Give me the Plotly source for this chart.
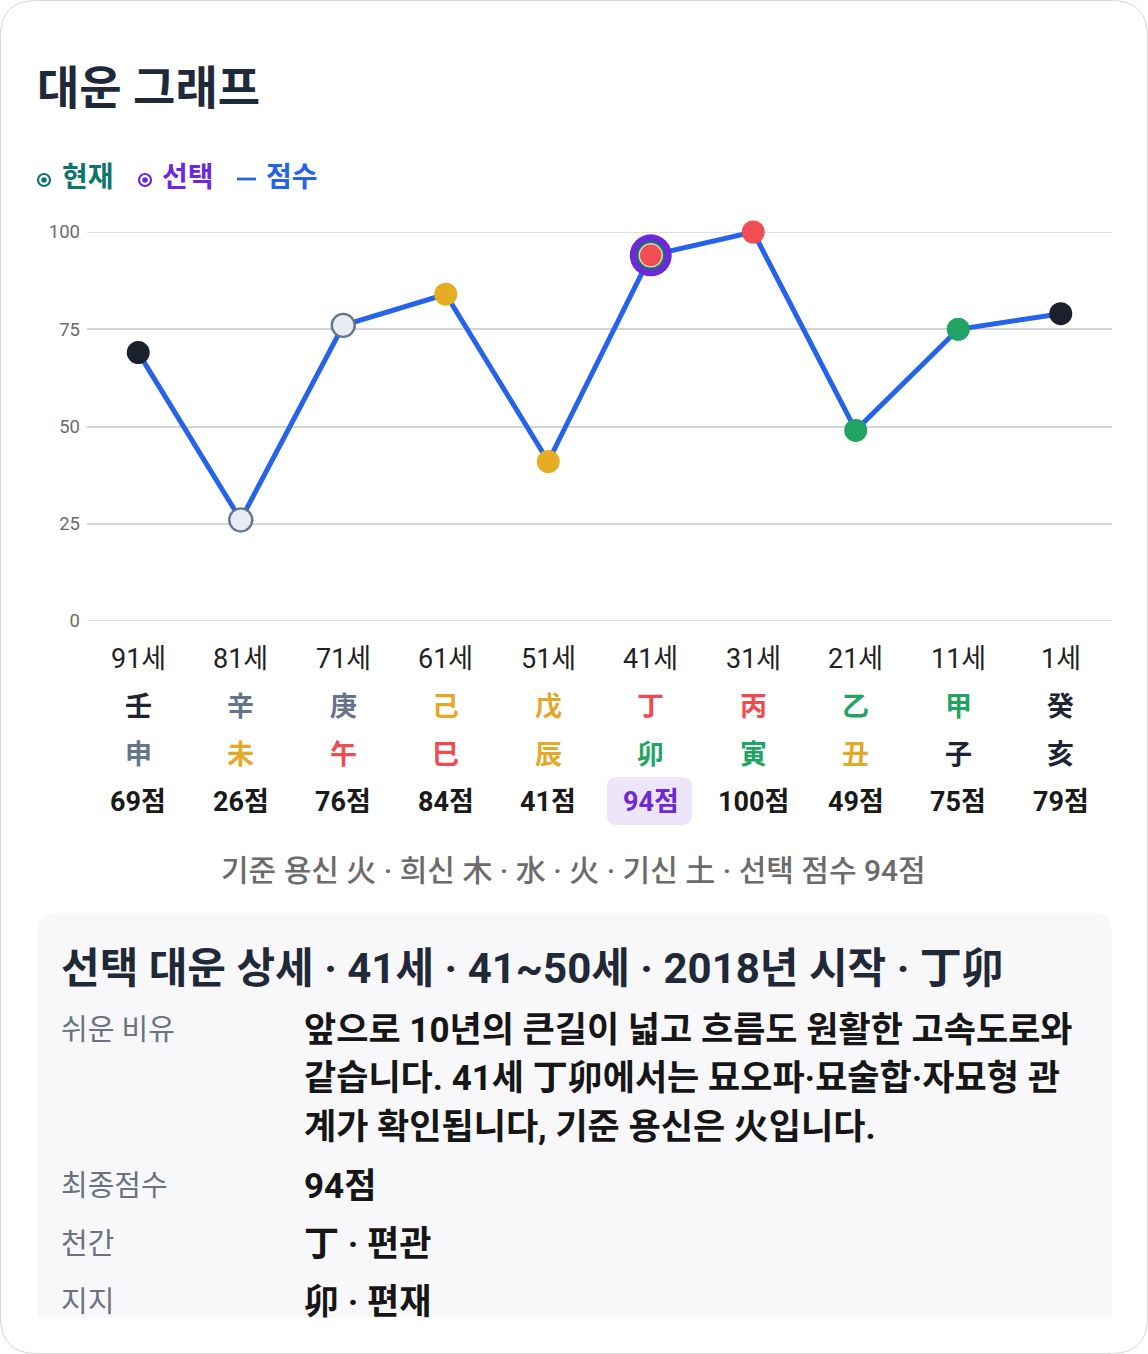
import plotly.graph_objects as go

# data
ages = ["91세", "81세", "71세", "61세", "51세", "41세", "31세", "21세", "11세", "1세"]
stems = ["壬", "辛", "庚", "己", "戊", "丁", "丙", "乙", "甲", "癸"]
branches = ["申", "未", "午", "巳", "辰", "卯", "寅", "丑", "子", "亥"]
scores = [69, 26, 76, 84, 41, 94, 100, 49, 75, 79]
stem_elem = ["water", "metal", "metal", "earth", "earth", "fire", "fire", "wood", "wood", "water"]
branch_elem = ["metal", "earth", "fire", "fire", "earth", "wood", "wood", "earth", "water", "water"]
selected = 5

y_ticks = [0, 25, 50, 75, 100]
title = "대운 그래프"
legend_items = ["현재", "선택", "점수"]
footnote = "기준 용신 火 · 희신 木 · 水 · 火 · 기신 土 · 선택 점수 94점"
detail_title = "선택 대운 상세 · 41세 · 41~50세 · 2018년 시작 · 丁卯"
detail_rows = [
    ("쉬운 비유", ["앞으로 10년의 큰길이 넓고 흐름도 원활한 고속도로와",
                "같습니다. 41세 丁卯에서는 묘오파·묘술합·자묘형 관",
                "계가 확인됩니다, 기준 용신은 火입니다."]),
    ("최종점수", ["94점"]),
    ("천간", ["丁 · 편관"]),
    ("지지", ["卯 · 편재"]),
]

text_col = {"water": "#1e2433", "metal": "#64748b", "earth": "#e2a826",
            "fire": "#f04b50", "wood": "#21a462"}
fill_col = {"water": "#1a202c", "metal": "#e8edf3", "earth": "#e5ac24",
            "fire": "#f24d52", "wood": "#21a462"}

W, H = 1148, 1354
L, R, T, B = 87, 36, 232, 733
PW, PH = W - L - R, H - T - B
FONT = "Roboto, Noto Sans CJK KR, sans-serif"


def xp(px):
    return (px - L) / PW


def yp(py):
    return (H - B - py) / PH


def rrect(x0, y0, x1, y1, r, round_bottom=True):
    rb = r if round_bottom else 0
    pts = [("M", x0 + r, y0), ("L", x1 - r, y0), ("Q", x1, y0, x1, y0 + r),
           ("L", x1, y1 - rb), ("Q", x1, y1, x1 - rb, y1), ("L", x0 + rb, y1),
           ("Q", x0, y1, x0, y1 - rb), ("L", x0, y0 + r), ("Q", x0, y0, x0 + r, y0)]
    s = ""
    for p in pts:
        if p[0] == "Q":
            s += "Q %f,%f %f,%f " % (xp(p[1]), yp(p[2]), xp(p[3]), yp(p[4]))
        else:
            s += "%s %f,%f " % (p[0], xp(p[1]), yp(p[2]))
    return s + "Z"


fig = go.Figure()

fig.add_trace(go.Scatter(x=ages, y=scores, mode="lines",
                         line=dict(color="#2563eb", width=5),
                         hoverinfo="skip", cliponaxis=False))

fig.add_trace(go.Scatter(
    x=ages, y=scores, mode="markers", cliponaxis=False,
    marker=dict(size=23, color=[fill_col[e] for e in stem_elem],
                line=dict(color=["#64748b" if e == "metal" else "rgba(0,0,0,0)" for e in stem_elem],
                          width=[2.4 if e == "metal" else 0 for e in stem_elem]))))

# selected / current rings
sx, sy = [ages[selected]], [scores[selected]]
fig.add_trace(go.Scatter(x=sx, y=sy, mode="markers", cliponaxis=False,
                         marker=dict(size=42, color="#6d28d9", line=dict(width=0))))
fig.add_trace(go.Scatter(x=sx, y=sy, mode="markers", cliponaxis=False,
                         marker=dict(size=29, color="#0f766e", line=dict(width=0))))
fig.add_trace(go.Scatter(x=sx, y=sy, mode="markers", cliponaxis=False,
                         marker=dict(size=23, color=fill_col[stem_elem[selected]],
                                     line=dict(color="#f5c6c6", width=1.5))))

shapes = []
ann = []

# outer card
shapes.append(dict(type="path", xref="paper", yref="paper",
                   path=rrect(0.5, 0.5, W - 0.5, H - 0.5, 36),
                   line=dict(color="#d6d6d6", width=1), fillcolor="rgba(0,0,0,0)", layer="below"))

# detail panel
shapes.append(dict(type="path", xref="paper", yref="paper",
                   path=rrect(37, 913, 1112, 1318, 20, round_bottom=False),
                   line=dict(width=0), fillcolor="#f8f8fb", layer="below"))

# selected score highlight
shapes.append(dict(type="path", xref="paper", yref="paper",
                   path=rrect(607, 777, 692, 825, 10),
                   line=dict(width=0), fillcolor="#ede6fb", layer="below"))

# grid lines on the range edges
for v in (y_ticks[0], y_ticks[-1]):
    shapes.append(dict(type="line", xref="paper", yref="y", x0=0, x1=1, y0=v, y1=v,
                       line=dict(color="#d4d4d8", width=1.5), layer="below"))

# title
ann.append(dict(text="<b>%s</b>" % title, x=xp(35), y=yp(88), xanchor="left", yanchor="middle",
                font=dict(size=46, color="#1e293b")))

# legend
leg_cols = ["#0f766e", "#6d28d9", "#2563eb"]
leg_icon_x = [44, 145]
leg_text_x = [60, 160, 264]
for cx, c in zip(leg_icon_x, leg_cols[:2]):
    shapes.append(dict(type="circle", xref="paper", yref="paper",
                       x0=xp(cx - 6), x1=xp(cx + 6), y0=yp(180 - 6), y1=yp(180 + 6),
                       line=dict(color=c, width=2.2), fillcolor="white"))
    shapes.append(dict(type="circle", xref="paper", yref="paper",
                       x0=xp(cx - 2.8), x1=xp(cx + 2.8), y0=yp(180 - 2.8), y1=yp(180 + 2.8),
                       line=dict(width=0), fillcolor=c))
shapes.append(dict(type="line", xref="paper", yref="paper", x0=xp(237), x1=xp(256),
                   y0=yp(179), y1=yp(179), line=dict(color="#2563eb", width=2.8)))
for t, c, tx in zip(legend_items, leg_cols, leg_text_x):
    ann.append(dict(text="<b>%s</b>" % t, x=xp(tx), y=yp(177), xanchor="left", yanchor="middle",
                    font=dict(size=28, color=c)))

# category labels under the axis
for i in range(len(ages)):
    ann.append(dict(text=ages[i], x=i, xref="x", y=yp(659), xanchor="center", yanchor="middle",
                    font=dict(size=27, color="#222222")))
    ann.append(dict(text="<b>%s</b>" % stems[i], x=i, xref="x", y=yp(707), xanchor="center",
                    yanchor="middle", font=dict(size=27, color=text_col[stem_elem[i]])))
    ann.append(dict(text="<b>%s</b>" % branches[i], x=i, xref="x", y=yp(755), xanchor="center",
                    yanchor="middle", font=dict(size=27, color=text_col[branch_elem[i]])))
    ann.append(dict(text="<b>%d점</b>" % scores[i], x=i, xref="x", y=yp(802), xanchor="center",
                    yanchor="middle",
                    font=dict(size=27, color="#6d28d9" if i == selected else "#1a1a1a")))

ann.append(dict(text=footnote, x=xp(573), y=yp(870), xanchor="center", yanchor="middle",
                font=dict(size=30, color="#6b6b6b", weight=500)))

ann.append(dict(text="<b>%s</b>" % detail_title, x=xp(59), y=yp(968), xanchor="left",
                yanchor="middle", font=dict(size=42, color="#1f2937")))

row_y = [[1030, 1078, 1127], [1186], [1244], [1302]]
for (label, lines), ys in zip(detail_rows, row_y):
    ann.append(dict(text=label, x=xp(59), y=yp(ys[0]), xanchor="left", yanchor="middle",
                    font=dict(size=29, color="#6b7280")))
    for line, y in zip(lines, ys):
        ann.append(dict(text="<b>%s</b>" % line, x=xp(302), y=yp(y), xanchor="left",
                        yanchor="middle", font=dict(size=35, color="#161616")))

for a in ann:
    a.setdefault("xref", "paper")
    a["yref"] = "paper"
    a["showarrow"] = False

fig.update_layout(
    width=W, height=H,
    margin=dict(l=L, r=R, t=T, b=B),
    paper_bgcolor="white", plot_bgcolor="white",
    font=dict(family=FONT),
    showlegend=False,
    shapes=shapes, annotations=ann,
    xaxis=dict(type="category", range=[-0.5, len(ages) - 0.5], showgrid=False,
               showticklabels=False, zeroline=False, showline=False, fixedrange=True),
    yaxis=dict(range=[0, 100], tickvals=y_ticks, showgrid=True, gridcolor="#d4d4d8",
               gridwidth=1.5, zeroline=False, showline=False, ticks="",
               ticklabelstandoff=6,
               tickfont=dict(size=18.5, color="#6b6b6b"), fixedrange=True),
)

fig.write_html("out.html", config={"displayModeBar": False},
               post_script="document.body.style.margin='0';")
